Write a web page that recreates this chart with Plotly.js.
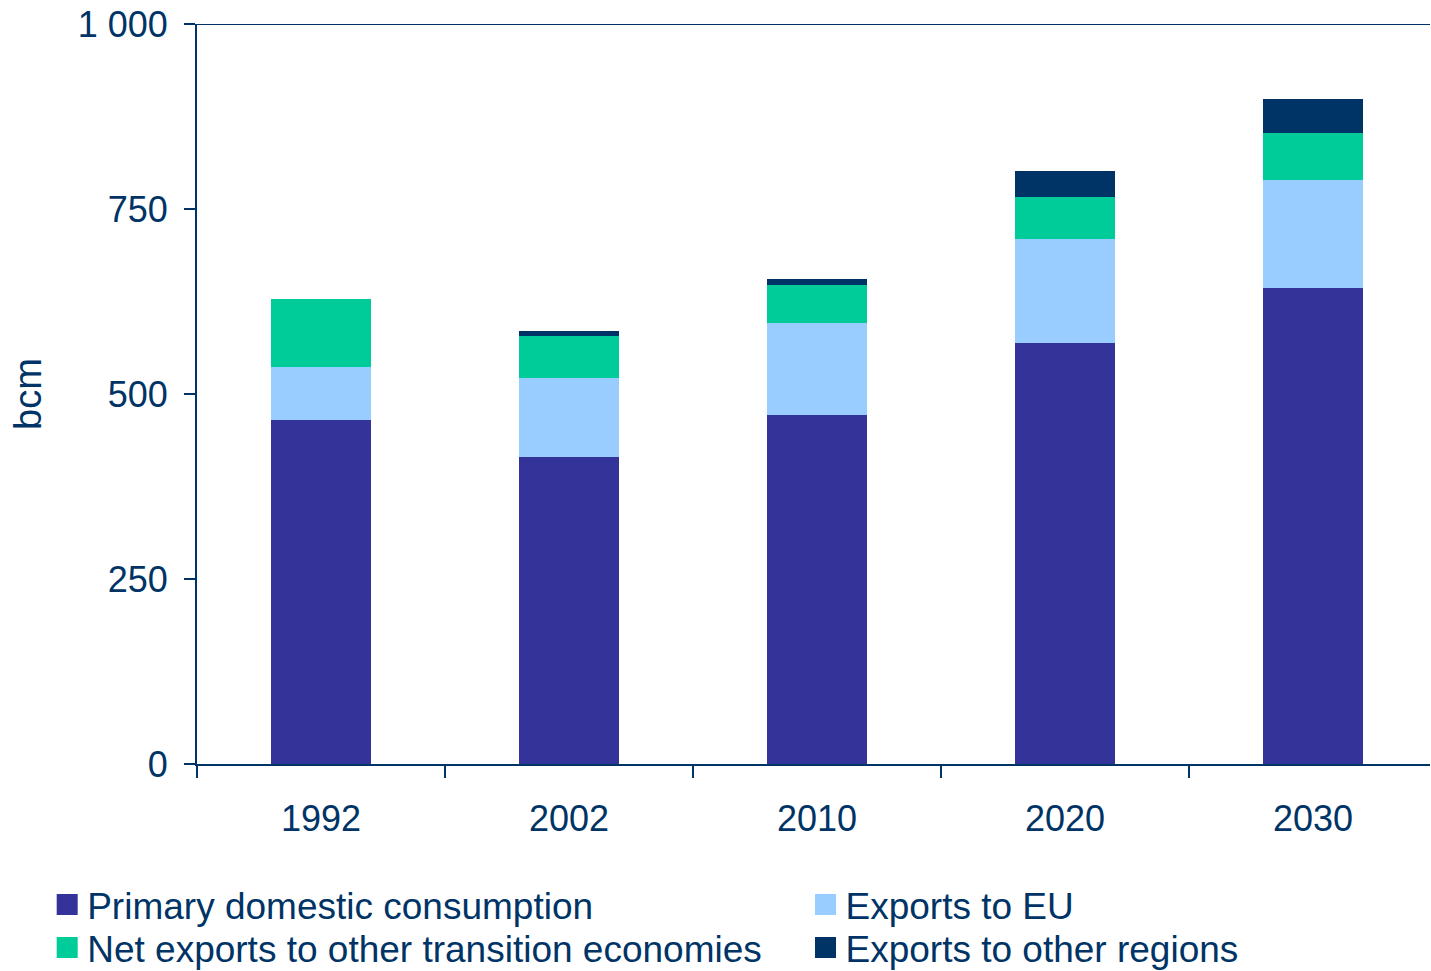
<!DOCTYPE html>
<html>
<head>
<meta charset="utf-8">
<script src="https://cdn.plot.ly/plotly-3.0.1.min.js"></script>
<style>html,body{margin:0;padding:0;background:#fff;}#chart{width:1431px;height:971px;}</style>
</head>
<body>
<div id="chart"></div>
<script>
const years = ["1992", "2002", "2010", "2020", "2030"];
const primaryDomestic = [465, 415, 472, 569, 643];
const exportsEU = [72, 107, 124, 140, 146];
const netExportsTransition = [91, 57, 51, 57, 64];
const exportsOther = [0, 6, 8, 35, 46];
const yTicks = [0, 250, 500, 750, 1000];

const textColor = "#003366";
const font = "Liberation Sans, Arial, sans-serif";

const series = [
  {name: "Primary domestic consumption", y: primaryDomestic, color: "#333399", legend: "legend"},
  {name: "Exports to EU", y: exportsEU, color: "#99CCFF", legend: "legend2"},
  {name: "Net exports to other transition economies", y: netExportsTransition, color: "#00CC99", legend: "legend3"},
  {name: "Exports to other regions", y: exportsOther, color: "#003366", legend: "legend4"}
];

const bars = series.map(s => ({
  type: "bar", x: years, y: s.y, name: s.name, showlegend: false,
  marker: {color: s.color, line: {width: 0}}, hoverinfo: "x+y+name"
}));
const legendKeys = series.map(s => ({
  type: "scatter", mode: "markers", x: [null], y: [null], name: s.name, legend: s.legend,
  marker: {symbol: "square", size: 16, color: s.color, line: {color: s.color, width: 5}},
  hoverinfo: "skip"
}));

const legendCommon = {
  orientation: "v", yanchor: "top", xanchor: "left",
  font: {family: font, size: 37, color: textColor},
  bgcolor: "rgba(0,0,0,0)", borderwidth: 0, itemsizing: "trace"
};

const layout = {
  width: 1431, height: 971,
  margin: {l: 197, r: 1, t: 24, b: 207, autoexpand: false},
  paper_bgcolor: "#fff", plot_bgcolor: "#fff",
  barmode: "stack", bargap: 0.597,
  separators: ". ",
  font: {family: font, color: textColor},
  showlegend: true,
  legend: Object.assign({}, legendCommon, {x: -0.1215, y: -0.1486}),
  legend2: Object.assign({}, legendCommon, {x: 0.4935, y: -0.1486}),
  legend3: Object.assign({}, legendCommon, {x: -0.1215, y: -0.2068}),
  legend4: Object.assign({}, legendCommon, {x: 0.4935, y: -0.2068}),
  xaxis: {
    type: "category", range: [-0.5, 4.472], showgrid: false, zeroline: false,
    showline: true, linecolor: textColor, linewidth: 2,
    ticks: "outside", tickson: "boundaries", ticklen: 12, tickwidth: 2, tickcolor: textColor,
    tickfont: {family: font, size: 36, color: textColor},
    ticklabelstandoff: 22
  },
  yaxis: {
    range: [0, 1000], tickvals: yTicks, tickformat: ",d",
    showgrid: false, zeroline: false,
    showline: true, linecolor: textColor, linewidth: 2,
    ticks: "outside", ticklen: 11, tickwidth: 2, tickcolor: textColor,
    tickfont: {family: font, size: 36, color: textColor},
    ticklabelstandoff: 9,
    title: {text: "bcm", font: {family: font, size: 38, color: textColor}, standoff: 24}
  },
  shapes: [{type: "line", xref: "paper", yref: "y", x0: 0, x1: 1, y0: 1000, y1: 1000,
            line: {color: textColor, width: 2}}]
};

Plotly.newPlot("chart", bars.concat(legendKeys), layout, {displayModeBar: false, staticPlot: true});
</script>
</body>
</html>
